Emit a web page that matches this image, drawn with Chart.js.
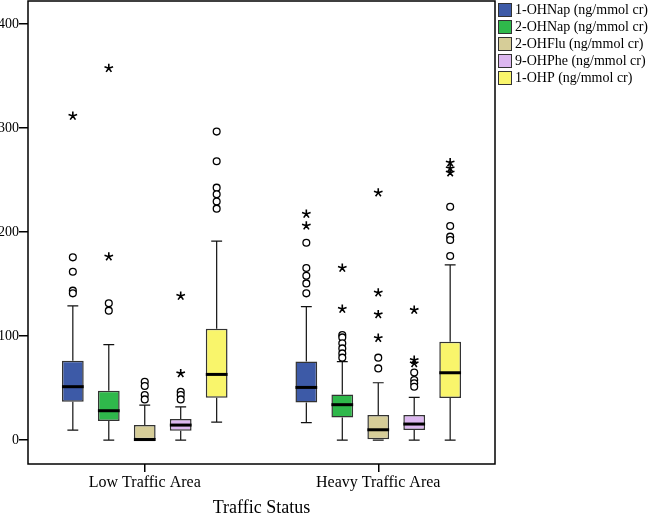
<!DOCTYPE html>
<html>
<head>
<meta charset="utf-8">
<script src="https://cdn.jsdelivr.net/npm/chart.js@4.4.1/dist/chart.umd.min.js"></script>
<style>
  body { margin: 0; background: #fff; }
  #wrap { width: 649px; height: 515px; }
</style>
</head>
<body>
<div id="wrap"><canvas id="chart-box"></canvas></div>
<script>
// Categories and series
const categories = ['Low Traffic Area', 'Heavy Traffic Area'];
const seriesNames = ['1-OHNap (ng/mmol cr)', '2-OHNap (ng/mmol cr)', '2-OHFlu (ng/mmol cr)', '9-OHPhe (ng/mmol cr)', '1-OHP (ng/mmol cr)'];
const seriesColors = ['#3d5aa7', '#2fb84b', '#d6cd98', '#dcb7f0', '#f9f56b'];
const yTicks = [0, 100, 200, 300, 400];

// Box statistics, one row per series: [low, heavy]
const q1 = [[36.8, 36.2], [18.3, 21.8], [0, 0], [9, 9.6], [40.7, 40.4]];
const median = [[51.3, 50.6], [28.2, 34], [0.5, 9.9], [14.4, 15.4], [63.1, 64.7]];
const q3 = [[76.3, 75.6], [47.4, 43.9], [14.4, 24], [20.2, 24], [107, 94.5]];
const whiskerLo = [[9.6, 16.7], [0, 0], [0, 0], [0, 0], [17.3, 0]];
const whiskerHi = [[129, 128.2], [91.7, 75.3], [33.6, 55.1], [32, 41], [191.3, 168.3]];

// Outliers (circles) and extremes (stars)
const outliers = [
  [[175.6, 161.8, 143.6, 141], [189.7, 165.4, 158, 150.6, 141]],
  [[131.4, 124.4], [101, 98.7, 93, 88.1, 83.3, 79.2]],
  [[56, 52, 43.3, 39.1], [79.2, 68.9]],
  [[46.5, 43.3, 39.1], [65, 57.7, 54.5, 51.3]],
  [[296.5, 268, 242.6, 236.2, 229.2, 222.4], [224.3, 205.8, 195.5, 192.3, 176.9]]
];
const extremes = [
  [[311.5], [217.3, 206]],
  [[357.4, 176.3], [165.4, 126]],
  [[], [237.8, 141.7, 120.8, 98]],
  [[138.5, 64.1], [125, 76.9, 73.7]],
  [[], [266.7, 261.2, 257]]
];

const serif = "'Liberation Serif', 'DejaVu Serif', serif";

function drawStar(ctx, x, y, r) {
  ctx.beginPath();
  for (let k = 0; k < 5; k++) {
    const a = -Math.PI / 2 + k * 2 * Math.PI / 5;
    ctx.moveTo(x, y);
    ctx.lineTo(x + r * Math.cos(a), y + r * Math.sin(a));
  }
  ctx.stroke();
}

// whiskers, medians, outliers and the frame
const boxPlot = {
  id: 'boxPlot',
  afterDatasetsDraw(chart) {
    const ctx = chart.ctx;
    const y = chart.scales.y;
    ctx.save();
    chart.data.datasets.forEach((ds, s) => {
      chart.getDatasetMeta(s).data.forEach((bar, i) => {
        const x = bar.x, w = bar.width;
        ctx.strokeStyle = '#111';
        ctx.lineWidth = 1.2;
        ctx.beginPath();
        ctx.moveTo(x, y.getPixelForValue(q3[s][i]));
        ctx.lineTo(x, y.getPixelForValue(whiskerHi[s][i]));
        ctx.moveTo(x, y.getPixelForValue(q1[s][i]));
        ctx.lineTo(x, y.getPixelForValue(whiskerLo[s][i]));
        ctx.moveTo(x - w / 4, y.getPixelForValue(whiskerHi[s][i]));
        ctx.lineTo(x + w / 4, y.getPixelForValue(whiskerHi[s][i]));
        ctx.moveTo(x - w / 4, y.getPixelForValue(whiskerLo[s][i]));
        ctx.lineTo(x + w / 4, y.getPixelForValue(whiskerLo[s][i]));
        ctx.stroke();

        ctx.lineWidth = 3;
        ctx.strokeStyle = '#000';
        ctx.beginPath();
        ctx.moveTo(x - w / 2, y.getPixelForValue(median[s][i]));
        ctx.lineTo(x + w / 2, y.getPixelForValue(median[s][i]));
        ctx.stroke();

        ctx.lineWidth = 1.3;
        outliers[s][i].forEach(v => {
          ctx.beginPath();
          ctx.arc(x, y.getPixelForValue(v), 3.4, 0, Math.PI * 2);
          ctx.fillStyle = '#fff';
          ctx.fill();
          ctx.stroke();
        });
        ctx.lineWidth = 1.6;
        extremes[s][i].forEach(v => drawStar(ctx, x, y.getPixelForValue(v), 4.5));
      });
    });
    const a = chart.chartArea;
    ctx.strokeStyle = '#000';
    ctx.lineWidth = 1.5;
    ctx.strokeRect(a.left, a.top, a.right - a.left, a.bottom - a.top);
    ctx.restore();
  }
};

// legend on the right, boxes next to text
const sideLegend = {
  id: 'sideLegend',
  afterDraw(chart) {
    const ctx = chart.ctx;
    const x0 = chart.chartArea.right + 3;
    ctx.save();
    ctx.font = '14px ' + serif;
    ctx.textBaseline = 'middle';
    chart.data.datasets.forEach((ds, s) => {
      const top = 3 + s * 17;
      ctx.fillStyle = ds.backgroundColor;
      ctx.fillRect(x0, top, 14, 14);
      ctx.strokeStyle = '#333';
      ctx.lineWidth = 1;
      ctx.strokeRect(x0 + 0.5, top + 0.5, 13, 13);
      ctx.fillStyle = '#000';
      ctx.fillText(ds.label, x0 + 17, top + 7.5);
    });
    ctx.restore();
  }
};

new Chart(document.getElementById('chart-box'), {
  type: 'bar',
  data: {
    labels: categories,
    datasets: seriesNames.map((name, s) => ({
      label: name,
      data: categories.map((c, i) => [q1[s][i], q3[s][i]]),
      backgroundColor: seriesColors[s],
      borderColor: '#333',
      borderWidth: 1.5,
      borderSkipped: false,
      categoryPercentage: 0.77,
      barPercentage: 0.605
    }))
  },
  options: {
    responsive: true,
    maintainAspectRatio: false,
    animation: false,
    layout: { padding: { left: 0, right: 154, top: 1, bottom: 0 } },
    plugins: { legend: { display: false }, tooltip: { enabled: false } },
    scales: {
      x: {
        grid: { offset: false, drawOnChartArea: false, drawTicks: true, tickLength: 8, color: '#000', lineWidth: 1.5 },
        border: { display: false },
        ticks: { color: '#000', font: { family: serif, size: 16 }, padding: 1 },
        title: { display: true, text: 'Traffic Status', color: '#000', font: { family: serif, size: 18, lineHeight: 1 }, padding: { top: 0, bottom: -2 } },
        afterFit(scale) { scale.height = 51; scale.paddingLeft = 0; scale.paddingRight = 0; }
      },
      y: {
        min: -23,
        max: 422,
        afterBuildTicks(scale) { scale.ticks = yTicks.map(v => ({ value: v })); },
        grid: { drawOnChartArea: false, drawTicks: true, tickLength: 9, color: '#000', lineWidth: 1.5 },
        border: { display: false },
        ticks: { color: '#000', font: { family: serif, size: 14 }, padding: 0 },
        afterFit(scale) { scale.width = 28; scale.paddingTop = 0; scale.paddingBottom = 0; }
      }
    }
  },
  plugins: [boxPlot, sideLegend]
});
</script>
</body>
</html>
